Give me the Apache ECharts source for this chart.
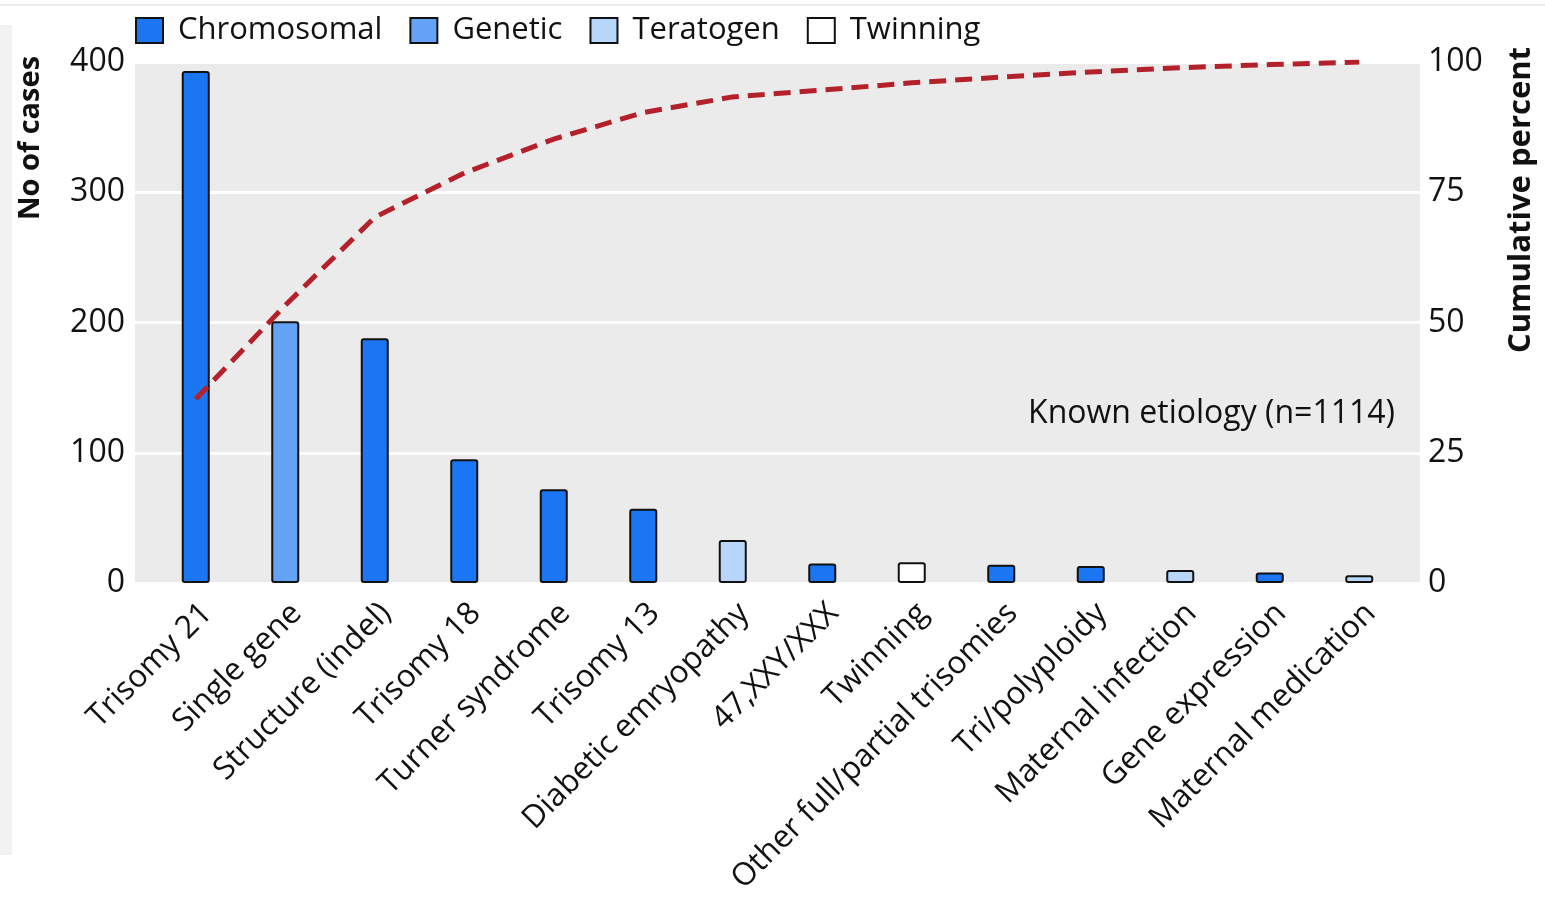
<!DOCTYPE html>
<html>
<head>
<meta charset="utf-8">
<script src="https://cdn.jsdelivr.net/npm/echarts@6/dist/echarts.min.js"></script>
<style>
html,body{margin:0;padding:0;background:#fff;}
#chart{width:1545px;height:900px;}
</style>
</head>
<body>
<div id="chart"></div>
<script>
// ---- data ----
var categories = ["Trisomy 21","Single gene","Structure (indel)","Trisomy 18","Turner syndrome","Trisomy 13","Diabetic emryopathy","47,XXY/XXX","Twinning","Other full/partial trisomies","Tri/polyploidy","Maternal infection","Gene expression","Maternal medication"];
var cases = [393, 201, 188, 95, 72, 57, 33, 15, 16, 14, 13, 10, 8, 6];
var groups = ["Chromosomal","Genetic","Chromosomal","Chromosomal","Chromosomal","Chromosomal","Teratogen","Chromosomal","Twinning","Chromosomal","Chromosomal","Teratogen","Chromosomal","Teratogen"];
var cumulativePercent = [35.3, 53.3, 70.2, 78.7, 85.2, 90.3, 93.3, 94.6, 96.0, 97.1, 98.1, 98.9, 99.5, 100];
var groupNames = ["Chromosomal","Genetic","Teratogen","Twinning"];
var groupColors = ["#1a76f2","#64a2f5","#b8d6fa","#ffffff"];
var leftTicks = [0, 400, 100];   // min, max, interval
var rightTicks = [0, 100, 25];

var chart = echarts.init(document.getElementById('chart'));
var tickFont = "'Open Sans', sans-serif";

var barSeries = groupNames.map(function(g, gi){
  return {
    name: g,
    type: 'bar',
    xAxisIndex: 1,
    yAxisIndex: 2,
    stack: 'all',
    barWidth: 28,
    itemStyle: {color: groupColors[gi], borderColor: '#111', borderWidth: 2, borderRadius: 2},
    data: cases.map(function(v, i){ return groups[i] === g ? v : '-'; }),
    z: 3
  };
});

var option = {
  animation: false,
  backgroundColor: '#ffffff',
  legend: {
    left: 130, top: 10,
    itemWidth: 27, itemHeight: 25, itemGap: 27,
    icon: 'rect',
    textStyle: {fontFamily: "'Open Sans',sans-serif", fontSize: 31, color: '#111', padding:[0,0,0,10]},
    data: groupNames
  },
  grid: [
    {left: 135, right: 125, top: 62, bottom: 317, show: true, backgroundColor: '#ebebeb', borderWidth: 0},
    {left: 151, right: 141, top: 62, bottom: 317}
  ],
  xAxis: [
    {type: 'value', gridIndex: 0, min: 0, max: 1, show: false},
    {type: 'category', gridIndex: 1, data: categories,
     axisLine: {show: false}, axisTick: {show: false},
     axisLabel: {rotate: 45, interval: 0, margin: 14, verticalAlign: 'top', fontFamily: tickFont, fontSize: 31.5, color: '#111'}}
  ],
  yAxis: [
    {type: 'value', gridIndex: 0, min: leftTicks[0], max: leftTicks[1], interval: leftTicks[2], position: 'left',
     axisLine: {show: false}, axisTick: {show: false},
     axisLabel: {margin: 10, fontFamily: tickFont, fontSize: 32, color: '#111'},
     splitLine: {show: true, lineStyle: {color: '#ffffff', width: 3}}},
    {type: 'value', gridIndex: 0, min: rightTicks[0], max: rightTicks[1], interval: rightTicks[2], position: 'right',
     axisLine: {show: false}, axisTick: {show: false},
     axisLabel: {margin: 8, fontFamily: tickFont, fontSize: 32, color: '#111'},
     splitLine: {show: false}},
    {type: 'value', gridIndex: 1, min: leftTicks[0], max: leftTicks[1], interval: leftTicks[2], show: false, splitLine: {show: false}},
    {type: 'value', gridIndex: 1, min: rightTicks[0], max: rightTicks[1], interval: rightTicks[2], show: false, splitLine: {show: false}}
  ],
  series: barSeries.concat([{
    name: 'Cumulative percent',
    type: 'line',
    xAxisIndex: 1,
    yAxisIndex: 3,
    data: cumulativePercent,
    showSymbol: false,
    symbol: 'none',
    lineStyle: {color: '#b5212b', width: 5, type: [17, 9]},
    z: 5
  }]),
  graphic: [
    {type: 'rect', left: 0, top: 25, shape: {width: 12, height: 830}, style: {fill: '#f2f2f2'}, z: -10},
    {type: 'rect', left: 0, top: 4, shape: {width: 1545, height: 2}, style: {fill: '#ececec'}, z: -10},
    {type: 'text', x: 31, y: 138, rotation: Math.PI/2,
     style: {text: 'No of cases', fontFamily: "'Open Sans',sans-serif", fontWeight: 'bold', fontSize: 29, fill: '#111', textAlign: 'center', textVerticalAlign: 'middle'}},
    {type: 'text', x: 1521, y: 200, rotation: Math.PI/2,
     style: {text: 'Cumulative percent', fontFamily: "'Open Sans',sans-serif", fontWeight: 'bold', fontSize: 31, fill: '#111', textAlign: 'center', textVerticalAlign: 'middle'}},
    {type: 'text', x: 1395, y: 414,
     style: {text: 'Known etiology (n=1114)', fontFamily: "'Open Sans',sans-serif", fontSize: 32, fill: '#111', textAlign: 'right', textVerticalAlign: 'middle'}, z: 10}
  ]
};
chart.setOption(option);
</script>
</body>
</html>
